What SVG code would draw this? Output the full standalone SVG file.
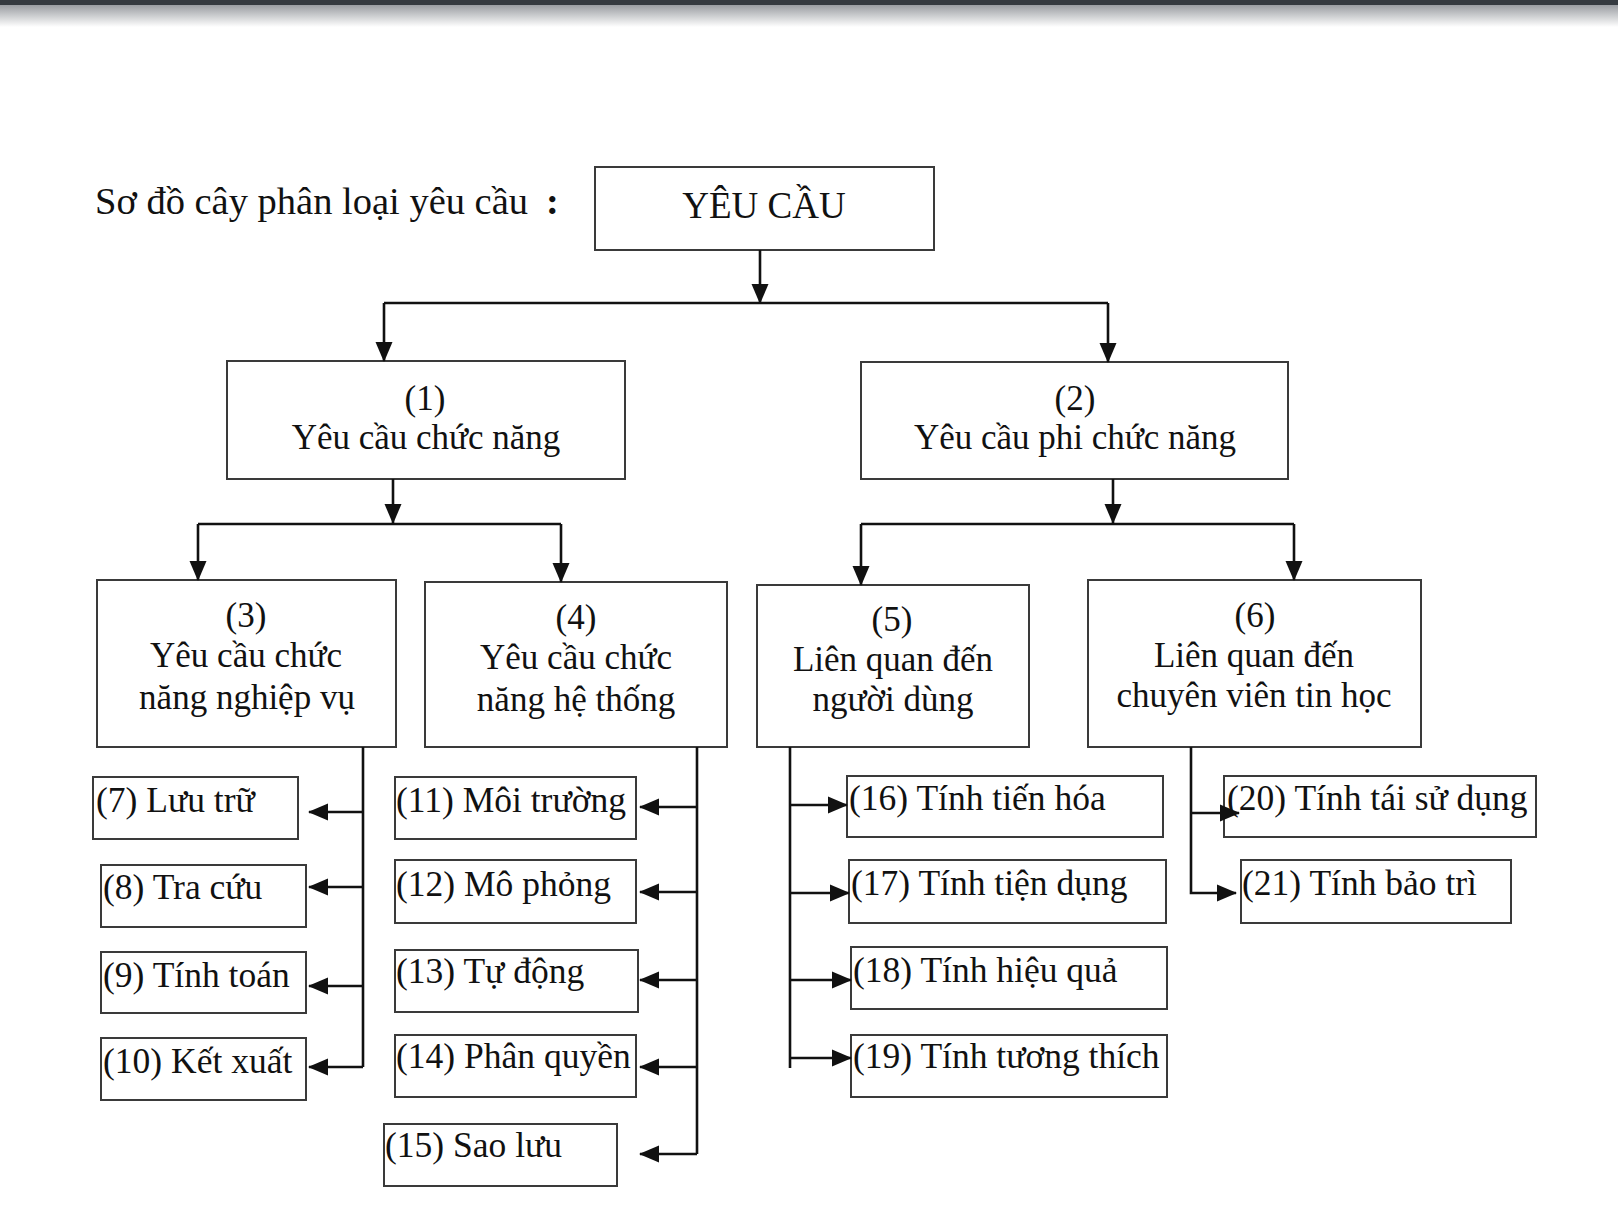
<svg xmlns="http://www.w3.org/2000/svg" width="1618" height="1216" viewBox="0 0 1618 1216">
<style>
.box{fill:#fff;stroke:#3a3a3a;stroke-width:2}
.t{font-family:"Liberation Serif","Times New Roman",serif;font-size:35px;fill:#111}
.lf{font-size:35.5px}
.c{text-anchor:middle}
.ln{fill:none;stroke:#111;stroke-width:2.6}
</style>
<defs>
<linearGradient id="shade" x1="0" y1="0" x2="0" y2="1">
<stop offset="0" stop-color="#9a9da2"/>
<stop offset="1" stop-color="#ffffff"/>
</linearGradient>
<marker id="ah" markerUnits="userSpaceOnUse" markerWidth="20" markerHeight="18" viewBox="0 0 20 18" refX="19" refY="9" orient="auto">
<path d="M0,0.5 L20,9 L0,17.5 z" fill="#111"/>
</marker>
</defs>
<rect x="0" y="0" width="1618" height="1216" fill="#fff"/>
<rect x="0" y="5" width="1618" height="22" fill="url(#shade)"/>
<rect x="0" y="0" width="1618" height="5" fill="#353a40"/>

<text class="t" x="95" y="214" style="font-size:38.5px">Sơ đồ cây phân loại yêu cầu<tspan dx="18" style="font-weight:bold">:</tspan></text>

<g id="root"><rect class="box" x="595" y="167" width="339" height="83"/><text class="t c" x="764" y="218" style="font-size:37px">YÊU CẦU</text></g>

<g id="n1"><rect class="box" x="227" y="361" width="398" height="118"/><text class="t c" x="425" y="410">(1)</text><text class="t c" x="426" y="449">Yêu cầu chức năng</text></g>
<g id="n2"><rect class="box" x="861" y="362" width="427" height="117"/><text class="t c" x="1075" y="410">(2)</text><text class="t c" x="1075" y="449">Yêu cầu phi chức năng</text></g>

<g id="n3"><rect class="box" x="97" y="580" width="299" height="167"/><text class="t c" x="246" y="627">(3)</text><text class="t c" x="246" y="667">Yêu cầu chức</text><text class="t c" x="247" y="709">năng nghiệp vụ</text></g>
<g id="n4"><rect class="box" x="425" y="582" width="302" height="165"/><text class="t c" x="576" y="629">(4)</text><text class="t c" x="576" y="669">Yêu cầu chức</text><text class="t c" x="576" y="711">năng hệ thống</text></g>
<g id="n5"><rect class="box" x="757" y="585" width="272" height="162"/><text class="t c" x="892" y="631">(5)</text><text class="t c" x="893" y="671">Liên quan đến</text><text class="t c" x="893" y="711">người dùng</text></g>
<g id="n6"><rect class="box" x="1088" y="580" width="333" height="167"/><text class="t c" x="1255" y="627">(6)</text><text class="t c" x="1254" y="667">Liên quan đến</text><text class="t c" x="1254" y="707">chuyên viên tin học</text></g>

<g id="n7"><rect class="box" x="93" y="777" width="205" height="62"/><text class="t lf" x="96" y="812">(7) Lưu trữ</text></g>
<g id="n8"><rect class="box" x="101" y="865" width="205" height="62"/><text class="t lf" x="103" y="899">(8) Tra cứu</text></g>
<g id="n9"><rect class="box" x="101" y="952" width="205" height="61"/><text class="t lf" x="103" y="987">(9) Tính toán</text></g>
<g id="n10"><rect class="box" x="101" y="1038" width="205" height="62"/><text class="t lf" x="103" y="1073">(10) Kết xuất</text></g>

<g id="n11"><rect class="box" x="395" y="777" width="241" height="62"/><text class="t lf" x="396" y="812">(11) Môi trường</text></g>
<g id="n12"><rect class="box" x="395" y="860" width="241" height="63"/><text class="t lf" x="396" y="896">(12) Mô phỏng</text></g>
<g id="n13"><rect class="box" x="395" y="950" width="243" height="62"/><text class="t lf" x="396" y="983">(13) Tự động</text></g>
<g id="n14"><rect class="box" x="395" y="1035" width="241" height="62"/><text class="t lf" x="396" y="1068">(14) Phân quyền</text></g>
<g id="n15"><rect class="box" x="384" y="1124" width="233" height="62"/><text class="t lf" x="385" y="1157">(15) Sao lưu</text></g>

<g id="n16"><rect class="box" x="847" y="776" width="316" height="61"/><text class="t lf" x="849" y="810">(16) Tính tiến hóa</text></g>
<g id="n17"><rect class="box" x="849" y="860" width="317" height="63"/><text class="t lf" x="851" y="895">(17) Tính tiện dụng</text></g>
<g id="n18"><rect class="box" x="851" y="947" width="316" height="62"/><text class="t lf" x="853" y="982">(18) Tính hiệu quả</text></g>
<g id="n19"><rect class="box" x="851" y="1035" width="316" height="62"/><text class="t lf" x="853" y="1068">(19) Tính tương thích</text></g>

<g id="n20"><rect class="box" x="1224" y="776" width="312" height="61"/><text class="t lf" x="1227" y="810">(20) Tính tái sử dụng</text></g>
<g id="n21"><rect class="box" x="1241" y="860" width="270" height="63"/><text class="t lf" x="1242" y="895">(21) Tính bảo trì</text></g>

<g id="connectors">
<path class="ln" d="M760,250 V303" marker-end="url(#ah)"/>
<path class="ln" d="M384,303 H1108"/>
<path class="ln" d="M384,303 V361" marker-end="url(#ah)"/>
<path class="ln" d="M1108,303 V362" marker-end="url(#ah)"/>

<path class="ln" d="M393,479 V523" marker-end="url(#ah)"/>
<path class="ln" d="M198,524 H561"/>
<path class="ln" d="M198,524 V580" marker-end="url(#ah)"/>
<path class="ln" d="M561,524 V582" marker-end="url(#ah)"/>

<path class="ln" d="M1113,479 V523" marker-end="url(#ah)"/>
<path class="ln" d="M861,524 H1294"/>
<path class="ln" d="M861,524 V585" marker-end="url(#ah)"/>
<path class="ln" d="M1294,524 V580" marker-end="url(#ah)"/>

<path class="ln" d="M363,747 V1067"/>
<path class="ln" d="M363,812 H309" marker-end="url(#ah)"/>
<path class="ln" d="M363,887 H309" marker-end="url(#ah)"/>
<path class="ln" d="M363,986 H309" marker-end="url(#ah)"/>
<path class="ln" d="M363,1067 H309" marker-end="url(#ah)"/>

<path class="ln" d="M697,747 V1154"/>
<path class="ln" d="M697,807 H640" marker-end="url(#ah)"/>
<path class="ln" d="M697,892 H640" marker-end="url(#ah)"/>
<path class="ln" d="M697,980 H640" marker-end="url(#ah)"/>
<path class="ln" d="M697,1067 H640" marker-end="url(#ah)"/>
<path class="ln" d="M697,1154 H640" marker-end="url(#ah)"/>

<path class="ln" d="M790,747 V1068"/>
<path class="ln" d="M790,805 H847" marker-end="url(#ah)"/>
<path class="ln" d="M790,893 H849" marker-end="url(#ah)"/>
<path class="ln" d="M790,980 H851" marker-end="url(#ah)"/>
<path class="ln" d="M790,1058 H851" marker-end="url(#ah)"/>

<path class="ln" d="M1191,747 V893 H1236" marker-end="url(#ah)"/>
<path class="ln" d="M1191,813 H1239" marker-end="url(#ah)"/>
</g>
</svg>
